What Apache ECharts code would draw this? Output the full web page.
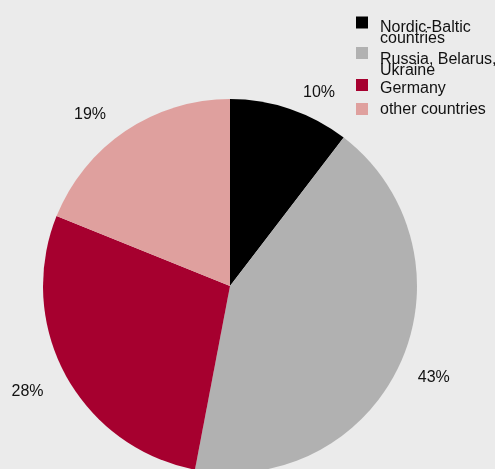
<!DOCTYPE html>
<html>
<head>
<meta charset="utf-8">
<script src="https://cdn.jsdelivr.net/npm/echarts@6/dist/echarts.min.js"></script>
<style>
html,body{margin:0;padding:0;background:#ebebeb;}
#c{width:495px;height:469px;}
</style>
</head>
<body>
<div id="c"></div>
<script>
var categories = ['Nordic-Baltic\ncountries', 'Russia, Belarus,\nUkraine', 'Germany', 'other countries'];
var values = [10.4, 42.6, 28.1, 18.9];
var labels = ['10%', '43%', '28%', '19%'];
var colors = ['#000000', '#b1b1b1', '#a6002f', '#dfa09e'];

var FONT = '"Liberation Sans", Arial, Helvetica, sans-serif';
var chart = echarts.init(document.getElementById('c'), null, {renderer: 'canvas'});

// legend layout (style only)
var sqTops = [16.5, 47, 79, 103];
var txtTops = [19.5, 51.5, 81, 101.5];
var graphics = [];
categories.forEach(function (name, i) {
  graphics.push({
    type: 'rect', left: 356, top: sqTops[i],
    shape: {width: 12, height: 12},
    style: {fill: colors[i]}
  });
  graphics.push({
    type: 'text', left: 380, top: txtTops[i],
    style: {text: name, font: '16px ' + FONT, lineHeight: 11.5, fill: '#111'}
  });
});

var labelShift = [[1, 5], [-8, 6], [2, 5], [-2, 2]];

chart.setOption({
  backgroundColor: '#ebebeb',
  animation: false,
  graphic: graphics,
  series: [{
    type: 'pie',
    center: [230, 286],
    radius: 187,
    startAngle: 90,
    clockwise: true,
    avoidLabelOverlap: false,
    data: categories.map(function (c, i) {
      return {name: c, value: values[i], itemStyle: {color: colors[i]}};
    }),
    label: {
      show: true,
      position: 'outside',
      formatter: function (p) { return labels[p.dataIndex]; },
      fontFamily: FONT,
      fontSize: 16,
      color: '#111'
    },
    labelLine: {show: false, length: 22, length2: 0},
    labelLayout: function (p) {
      var s = labelShift[p.dataIndex];
      return {dx: s[0], dy: s[1]};
    },
    emphasis: {disabled: true}
  }]
});
</script>
</body>
</html>
